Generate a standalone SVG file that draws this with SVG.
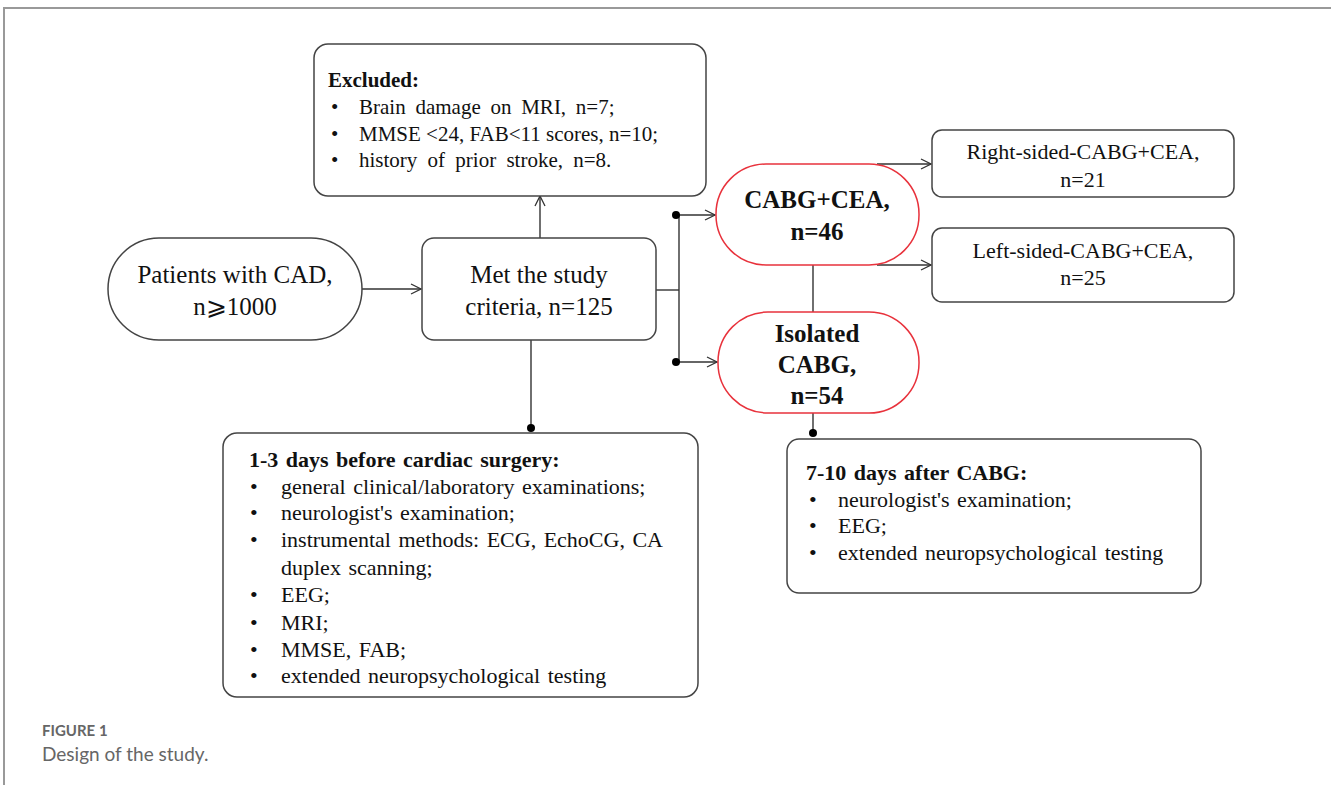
<svg xmlns="http://www.w3.org/2000/svg" width="1331" height="785" viewBox="0 0 1331 785">
<style>
.box{fill:#fff;stroke:#444;stroke-width:1.5}
.red{fill:#fff;stroke:#e8323c;stroke-width:1.5}
.t{font-family:"Liberation Serif","Times New Roman",serif;font-size:21px;fill:#111}
.m{font-size:22px;word-spacing:2px}
.b{font-weight:bold}
.c{text-anchor:middle}
.big{font-size:25px}
.con{fill:none;stroke:#333;stroke-width:1.4}
.cap{font-family:Lato,"Open Sans",sans-serif;fill:#666}
</style>
<defs>
<marker id="ah" viewBox="0 0 12 12" refX="11" refY="6" markerWidth="12" markerHeight="12" markerUnits="userSpaceOnUse" orient="auto">
<path d="M1,1 L11,6 L1,11" fill="none" stroke="#333" stroke-width="1.3"/>
</marker>
</defs>
<rect width="1331" height="785" fill="#fff"/>
<g id="frame">
<line x1="3" y1="8" x2="1331" y2="8" stroke="#999" stroke-width="2"/>
<line x1="4" y1="8" x2="4" y2="785" stroke="#999" stroke-width="2"/>
</g>
<g id="connectors">
<line class="con" x1="362" y1="289" x2="421" y2="289" marker-end="url(#ah)"/>
<line class="con" x1="540" y1="238" x2="540" y2="196" marker-end="url(#ah)"/>
<polyline class="con" points="656,290 679,290"/>
<line class="con" x1="679" y1="215" x2="679" y2="362"/>
<line class="con" x1="679" y1="215" x2="715" y2="215" marker-end="url(#ah)"/>
<line class="con" x1="679" y1="362" x2="717" y2="362" marker-end="url(#ah)"/>
<circle cx="676" cy="215" r="4" fill="#000"/>
<circle cx="676" cy="362" r="4" fill="#000"/>
<line class="con" x1="813" y1="265" x2="813" y2="312"/>
<line class="con" x1="877" y1="164" x2="931" y2="164" marker-end="url(#ah)"/>
<line class="con" x1="877" y1="265" x2="931" y2="265" marker-end="url(#ah)"/>
<line class="con" x1="531" y1="340" x2="531" y2="428"/>
<circle cx="531" cy="428" r="4" fill="#000"/>
<line class="con" x1="813" y1="413" x2="813" y2="433"/>
<circle cx="813" cy="433" r="4" fill="#000"/>
</g>
<g id="excluded">
<rect class="box" x="314" y="44" width="392" height="152" rx="14"/>
<text class="t b" x="328" y="87">Excluded:</text>
<text class="t" x="331" y="114">•</text><text class="t" x="359" y="114" word-spacing="4.5">Brain damage on MRI, n=7;</text>
<text class="t" x="331" y="141">•</text><text class="t" x="359" y="141">MMSE &lt;24, FAB&lt;11 scores, n=10;</text>
<text class="t" x="331" y="167">•</text><text class="t" x="359" y="167" word-spacing="5">history of prior stroke, n=8.</text>
</g>
<g id="patients">
<rect class="box" x="108" y="238" width="254" height="102" rx="51"/>
<text class="t big c" x="235" y="283">Patients with CAD,</text>
<text class="t big c" x="235" y="315">n⩾1000</text>
</g>
<g id="met">
<rect class="box" x="422" y="238" width="234" height="102" rx="12"/>
<text class="t big c" x="539" y="283">Met the study</text>
<text class="t big c" x="539" y="315">criteria, n=125</text>
</g>
<g id="cabgcea">
<rect class="red" x="716" y="164" width="203" height="101" rx="50"/>
<text class="t b big c" x="817" y="208">CABG+CEA,</text>
<text class="t b big c" x="817" y="240">n=46</text>
</g>
<g id="isolated">
<rect class="red" x="718" y="312" width="201" height="101" rx="50"/>
<text class="t b big c" x="817" y="342">Isolated</text>
<text class="t b big c" x="817" y="373">CABG,</text>
<text class="t b big c" x="817" y="404">n=54</text>
</g>
<g id="right">
<rect class="box" x="932" y="130" width="302" height="67" rx="10"/>
<text class="t m c" x="1083" y="159">Right-sided-CABG+CEA,</text>
<text class="t m c" x="1083" y="187">n=21</text>
</g>
<g id="left">
<rect class="box" x="932" y="228" width="302" height="74" rx="10"/>
<text class="t m c" x="1083" y="258">Left-sided-CABG+CEA,</text>
<text class="t m c" x="1083" y="285">n=25</text>
</g>
<g id="before">
<rect class="box" x="223" y="433" width="475" height="264" rx="14"/>
<text class="t m b" x="249" y="467">1-3 days before cardiac surgery:</text>
<text class="t m" x="250" y="494">•</text><text class="t m" x="281" y="494">general clinical/laboratory examinations;</text>
<text class="t m" x="250" y="520">•</text><text class="t m" x="281" y="520">neurologist's examination;</text>
<text class="t m" x="250" y="547">•</text><text class="t m" x="281" y="547">instrumental methods: ECG, EchoCG, CA</text>
<text class="t m" x="281" y="575">duplex scanning;</text>
<text class="t m" x="250" y="602">•</text><text class="t m" x="281" y="602">EEG;</text>
<text class="t m" x="250" y="630">•</text><text class="t m" x="281" y="630">MRI;</text>
<text class="t m" x="250" y="657">•</text><text class="t m" x="281" y="657">MMSE, FAB;</text>
<text class="t m" x="250" y="683">•</text><text class="t m" x="281" y="683">extended neuropsychological testing</text>
</g>
<g id="after">
<rect class="box" x="787" y="439" width="414" height="154" rx="12"/>
<text class="t m b" x="806" y="480">7-10 days after CABG:</text>
<text class="t m" x="809" y="507">•</text><text class="t m" x="838" y="507">neurologist's examination;</text>
<text class="t m" x="809" y="533">•</text><text class="t m" x="838" y="533">EEG;</text>
<text class="t m" x="809" y="560">•</text><text class="t m" x="838" y="560">extended neuropsychological testing</text>
</g>
<g id="caption">
<text class="cap" x="42" y="736" font-size="15" font-weight="bold">FIGURE 1</text>
<text class="cap" x="42" y="761" font-size="19">Design of the study.</text>
</g>
</svg>
